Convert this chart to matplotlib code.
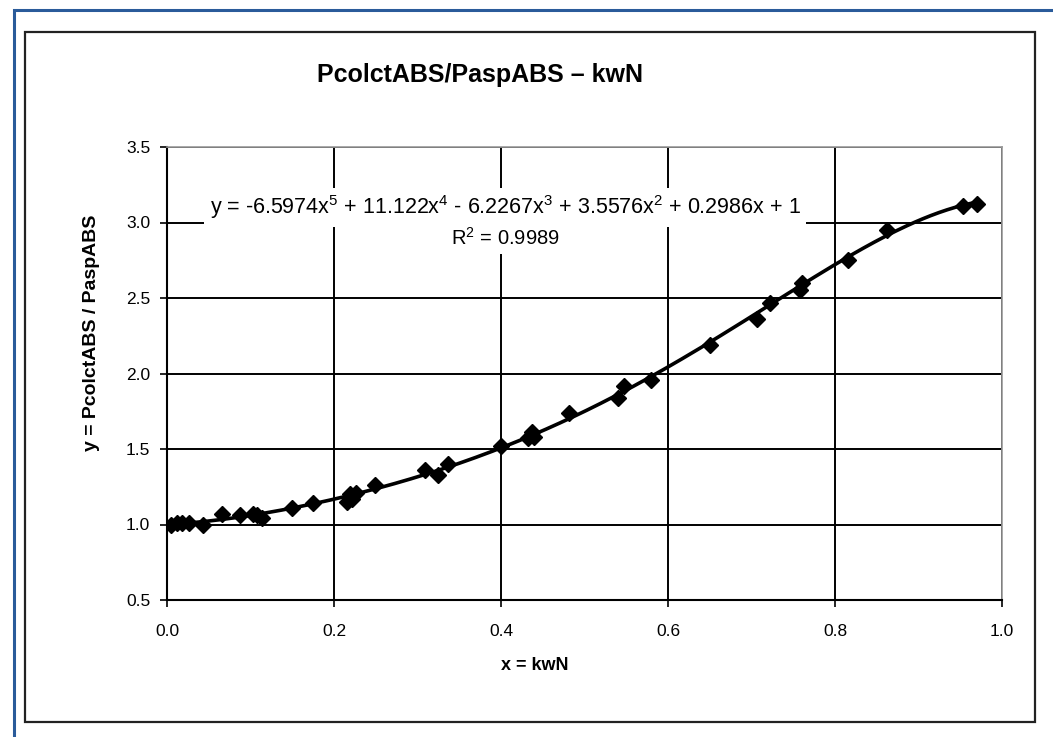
import numpy as np
import matplotlib
matplotlib.use("Agg")
import matplotlib.pyplot as plt
from matplotlib.patches import Rectangle

# ---- data ----
x_vals = [0.005, 0.012, 0.018, 0.026, 0.043, 0.066, 0.087, 0.103, 0.108, 0.114,
          0.150, 0.175, 0.215, 0.219, 0.222, 0.226, 0.249, 0.309, 0.325, 0.337,
          0.400, 0.432, 0.437, 0.440, 0.481, 0.540, 0.547, 0.580, 0.650, 0.706,
          0.722, 0.758, 0.760, 0.816, 0.862, 0.953, 0.970]
y_vals = [1.00, 1.01, 1.01, 1.01, 1.00, 1.07, 1.06, 1.07, 1.06, 1.04,
          1.11, 1.14, 1.15, 1.20, 1.17, 1.21, 1.26, 1.36, 1.33, 1.40,
          1.52, 1.57, 1.61, 1.58, 1.74, 1.84, 1.92, 1.96, 2.19, 2.36,
          2.47, 2.55, 2.60, 2.75, 2.95, 3.11, 3.12]
coeffs = [-6.5974, 11.122, -6.2267, 3.5576, 0.2986, 1.0]   # x^5 ... x^0
x_ticks = [0.0, 0.2, 0.4, 0.6, 0.8, 1.0]
y_ticks = [0.5, 1.0, 1.5, 2.0, 2.5, 3.0, 3.5]
title = "PcolctABS/PaspABS \u2013 kwN"
xlabel = "x = kwN"
ylabel = "y = PcolctABS / PaspABS"
eq_text = (r"y = -6.5974x$\mathregular{^5}$ + 11.122x$\mathregular{^4}$ - 6.2267x$\mathregular{^3}$"
           r" + 3.5576x$\mathregular{^2}$ + 0.2986x + 1")
r2_text = r"R$\mathregular{^2}$ = 0.9989"

plt.rcParams['font.family'] = ['Liberation Sans', 'DejaVu Sans']
plt.rcParams['mathtext.fontset'] = 'custom'
plt.rcParams['mathtext.rm'] = 'Liberation Sans'
plt.rcParams['mathtext.it'] = 'Liberation Sans:italic'
plt.rcParams['mathtext.bf'] = 'Liberation Sans:bold'

W, H = 1053, 737
fig = plt.figure(figsize=(W / 100, H / 100), dpi=100)
fig.patch.set_facecolor('white')

# outer frames
fig.patches.append(Rectangle((14 / W, -0.05), 1.2, 1 - 10 / H + 0.05, transform=fig.transFigure,
                             fill=False, edgecolor='#2a5b9a', lw=2.2, zorder=0))
fig.patches.append(Rectangle((25 / W, 1 - 722 / H), (1035 - 25) / W, (722 - 32) / H,
                             transform=fig.transFigure, fill=False, edgecolor='#222222',
                             lw=1.6, zorder=0))

left, right = 167 / W, 1002 / W
bottom, top = 1 - 600 / H, 1 - 147 / H
ax = fig.add_axes([left, bottom, right - left, top - bottom])
ax.set_xlim(0, 1.0)
ax.set_ylim(0.5, 3.5)
ax.set_xticks(x_ticks)
ax.set_yticks(y_ticks)
ax.set_xticklabels([f"{v:.1f}" for v in x_ticks], fontsize=12.5)
ax.set_yticklabels([f"{v:.1f}" for v in y_ticks], fontsize=12.5)
ax.tick_params(axis='both', color='black', width=1.2, length=5, direction='out')
ax.tick_params(axis='x', pad=12)
ax.tick_params(axis='y', pad=7)
ax.grid(True, color='black', lw=1.4, zorder=1)
ax.set_axisbelow(True)
for s in ['left', 'bottom']:
    ax.spines[s].set_color('black')
    ax.spines[s].set_linewidth(1.5)
for s in ['top', 'right']:
    ax.spines[s].set_color('#999999')
    ax.spines[s].set_linewidth(1.2)

xf = np.linspace(0, max(x_vals), 300)
yf = np.polyval(coeffs, xf)
ax.plot(xf, yf, color='black', lw=2.6, zorder=3)
ax.plot(x_vals, y_vals, linestyle='none', marker='D', markersize=8, color='black', zorder=4)

# trendline label with white box
ax.text(0.405, 3.10, eq_text, fontsize=15.5, ha='center', va='center',
        zorder=5, bbox=dict(facecolor='white', edgecolor='none', pad=4))
ax.text(0.405, 2.90, r2_text, fontsize=14.5, ha='center', va='center', zorder=5,
        bbox=dict(facecolor='white', edgecolor='none', pad=4))

fig.text(480 / W, 1 - 75 / H, title, fontsize=18, fontweight='bold',
         ha='center', va='center')
fig.text(535 / W, 1 - 665 / H, xlabel, fontsize=13, fontweight='bold',
         ha='center', va='center')
fig.text(92 / W, 1 - 333 / H, ylabel, fontsize=14, fontweight='bold', ha='center', va='center',
         rotation=90)

fig.savefig("out.png", dpi=100)
